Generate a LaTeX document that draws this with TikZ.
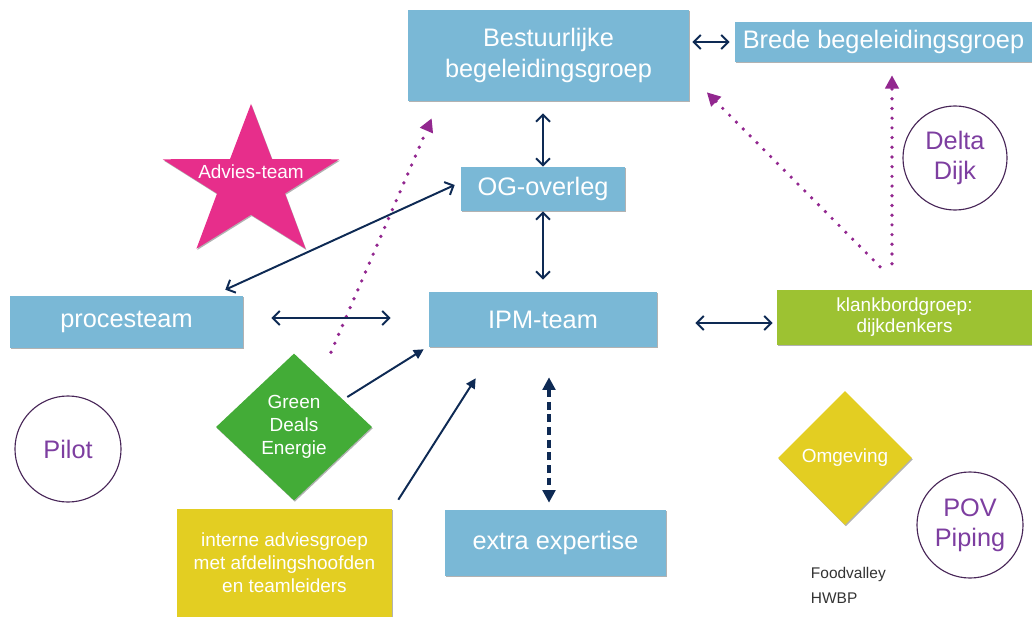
\documentclass[tikz,border=0pt]{standalone}
\usepackage{fontspec}
\setmainfont{Liberation Sans}
\usepackage{tikz}
\usetikzlibrary{shapes,shapes.geometric,arrows.meta,positioning,calc,shadows}

\definecolor{boxblue}{RGB}{122,184,214}
\definecolor{starpink}{RGB}{231,46,139}
\definecolor{dealgreen}{RGB}{67,172,55}
\definecolor{klankgreen}{RGB}{157,194,50}
\definecolor{ochre}{RGB}{227,206,34}
\definecolor{navy}{RGB}{14,42,84}
\definecolor{plum}{RGB}{146,39,143}
\definecolor{ringline}{RGB}{72,38,88}
\definecolor{ringtext}{RGB}{125,62,160}

\begin{document}
\begin{tikzpicture}[
            x=0.025cm, y=-0.025cm,
            big/.style={font=\fontsize{18}{22}\selectfont},
            mid/.style={font=\fontsize{13.5}{16.3}\selectfont},
            box/.style={rectangle, fill=boxblue, text=white, inner sep=0pt, align=center, big,
                drop shadow={shadow xshift=0.6pt, shadow yshift=-0.9pt, opacity=0.3, fill=black}},
            dia/.style={diamond, inner sep=0pt, text=white, align=center, mid,
                drop shadow={shadow xshift=0.6pt, shadow yshift=-0.9pt, opacity=0.3, fill=black}},
            ring/.style={circle, draw=ringline, line width=0.8pt, text=ringtext, inner sep=0pt,
                align=center, font=\fontsize{18}{21.3}\selectfont},
            lab/.style={draw=none, fill=none, text=black!80, align=left, font=\fontsize{11}{17.7}\selectfont},
            dbl/.style={draw=navy, line width=1.4pt, {Straight Barb[length=5pt,width=10pt]}-{Straight Barb[length=5pt,width=10pt]}},
            arr/.style={draw=navy, line width=1.4pt, -{Triangle[length=7pt,width=7pt]}},
            dsh/.style={draw=navy, line width=2.3pt, dash pattern=on 5.5pt off 3.5pt,
                {Triangle[length=9pt,width=9pt]}-{Triangle[length=9pt,width=9pt]}},
            dots/.style={draw=plum, line width=2.6pt, line cap=round, dash pattern=on 0pt off 6.9pt,
                -{Triangle[length=9.5pt,width=9.5pt]}}
        ]
\useasboundingbox (0,0) rectangle (1032,617);

% --- boxes ---
            \node[box, minimum width=7.025cm, minimum height=2.275cm] (best) at (548.5,55.5) {Bestuurlijke\\begeleidingsgroep};
            \node[box, minimum width=7.425cm, minimum height=1cm] (brede) at (883.5,42) {Brede begeleidingsgroep};
            \node[box, minimum width=4.1cm, minimum height=1.1cm] (og) at (543,189) {OG-overleg};
            \node[box, minimum width=5.7cm, minimum height=1.375cm] (ipm) at (543,319.5) {IPM-team};
            \node[box, minimum width=5.825cm, minimum height=1.3cm] (proc) at (126.5,322) {procesteam};
            \node[box, minimum width=5.525cm, minimum height=1.65cm] (ext) at (555.5,543) {extra expertise};
            \node[box, mid, fill=klankgreen, minimum width=6.375cm, minimum height=1.375cm, font=\fontsize{13.5}{15}\selectfont] (klank) at (904.5,317.5) {klankbordgroep:\\dijkdenkers};
            \node[box, mid, fill=ochre, minimum width=5.375cm, minimum height=2.7cm] (int) at (284.5,563) {interne adviesgroep\\met afdelingshoofden\\en teamleiders};

% --- star, diamonds, circles ---
            \node[star, star points=5, star point ratio=2.6, minimum size=4cm, inner sep=0pt, fill=starpink, xscale=1.16,
                drop shadow={shadow xshift=0.6pt, shadow yshift=-0.9pt, opacity=0.3, fill=black}] (adv) at (251,184) {};
            \node[text=white, mid] (advt) at (251,172) {Advies-team};
            \node[dia, fill=dealgreen, minimum width=3.9cm, minimum height=3.675cm] (gd) at (294,427) {Green\\Deals\\Energie};
            \node[dia, fill=ochre, minimum width=3.35cm, minimum height=3.35cm] (omg) at (845,458) {Omgeving};
            \node[ring, minimum size=2.65cm] (pilot) at (68,449) {Pilot};
            \node[ring, minimum size=2.6cm] (delta) at (955,158) {Delta\\Dijk};
            \node[ring, minimum size=2.65cm] (pov) at (970,525) {POV\\Piping};
            \node[lab, anchor=west] (fv) at (806,585) {Foodvalley\\HWBP};

% --- dotted purple ---
            \draw[dots] ($(gd.north)+(37,-1)$) -- ($(best.south west)+(24,17)$);
            \draw[dots] ($(klank.north)+(-24.5,-23)$) -- ($(best.south east)+(17.5,-9)$);
            \draw[dots] ($(klank.north)+(-12.5,-26)$) -- ($(brede.south)+(8.5,13)$);

% --- double arrows ---
            \draw[dbl] ($(best.east)+(3,-13.5)$) -- ($(brede.west)+(-5,0)$);
            \draw[dbl] ($(best.south -| og.north)+(0,12)$) -- (og.north);
            \draw[dbl] (og.south) -- ($(ipm.north)+(0,-12)$);
            \draw[dbl] ($(proc.east)+(28,-4)$) -- ($(ipm.west)+(-38,-1.5)$);
            \draw[dbl] ($(proc.north east)+(-18,-6)$) -- ($(og.west)+(-6,-4)$);
            \draw[dbl] ($(ipm.east)+(38,3.5)$) -- ($(klank.west)+(-4,5.5)$);

% --- single arrows ---
            \draw[arr] ($(gd.east)+(-25,-30)$) -- ($(ipm.south west)+(-5,2)$);
            \draw[arr] ($(int.north east)+(6,-9)$) -- ($(ipm.south west)+(47,31)$);
            \draw[dsh] ($(ipm.south)+(6,30)$) -- ($(ext.north)+(-6.5,-7)$);

        \end{tikzpicture}
\end{document}
